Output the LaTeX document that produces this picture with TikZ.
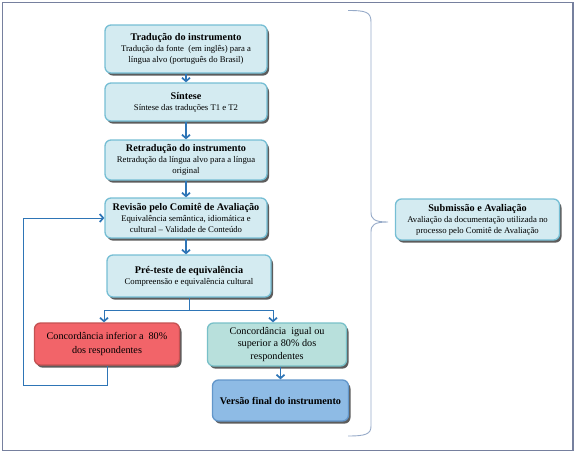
\documentclass[tikz,border=0pt]{standalone}
\usepackage{fontspec}
\setmainfont{Liberation Serif}
\usetikzlibrary{arrows.meta,shadows}
\definecolor{boxfill}{RGB}{212,235,241}
\definecolor{boxdraw}{RGB}{118,190,212}
\definecolor{redfill}{RGB}{242,100,105}
\definecolor{reddraw}{RGB}{196,82,82}
\definecolor{grnfill}{RGB}{184,224,220}
\definecolor{grndraw}{RGB}{120,192,200}
\definecolor{finfill}{RGB}{142,187,229}
\definecolor{findraw}{RGB}{98,150,202}
\definecolor{arrowblue}{RGB}{46,117,182}
\definecolor{framecol}{RGB}{118,128,158}
\definecolor{bracecol}{RGB}{150,170,200}
\tikzset{
  stagebox/.style={draw=boxdraw, fill=boxfill, line width=1.3pt, rounded corners=6pt,
    align=center, inner sep=1pt, font=\fontsize{8.7}{11}\selectfont,
    drop shadow={shadow xshift=2pt, shadow yshift=-2.6pt, fill=black!75, opacity=0.85}},
  redbox/.style={stagebox, draw=reddraw, fill=redfill},
  grnbox/.style={stagebox, draw=grndraw, fill=grnfill},
  finbox/.style={stagebox, draw=findraw, fill=finfill},
  flow/.style={draw=arrowblue, line width=1.7pt, -{Straight Barb[length=3.5pt,width=8pt,line width=1.7pt]}},
  link/.style={draw=arrowblue, line width=1pt},
  linkarrow/.style={link, -{Straight Barb[length=3.5pt,width=8pt,line width=1.7pt]}}
}
\newcommand{\bt}[1]{{\bfseries\fontsize{10.2}{11.5}\selectfont #1}}
\begin{document}
\begin{tikzpicture}[x=1pt,y=-1pt]
\useasboundingbox (0,0) rectangle (578,455);
\draw[framecol, line width=1.5pt] (2.5,2.5) rectangle (573,450.5);

\node[stagebox, minimum width=162pt, minimum height=48pt] (t1) at (186,49)
  {\bt{Tradução do instrumento}\\Tradução da fonte\ \ (em inglês) para a\\língua alvo (português do Brasil)};
\node[stagebox, minimum width=162pt, minimum height=38pt] (t2) at (186,102)
  {\bt{Síntese}\\Síntese das traduções T1 e T2};
\node[stagebox, minimum width=162pt, minimum height=40pt] (t3) at (186,160)
  {\bt{Retradução do instrumento}\\Retradução da língua alvo para a língua\\original};
\node[stagebox, minimum width=162pt, minimum height=40pt] (t4) at (186,218)
  {\bt{Revisão pelo Comitê de Avaliação}\\Equivalência semântica, idiomática e\\cultural – Validade de Conteúdo};
\node[stagebox, minimum width=164pt, minimum height=42pt] (t5) at (189,276)
  {\bt{Pré-teste de equivalência}\\Compreensão e equivalência cultural};
\node[redbox, minimum width=145pt, minimum height=42pt, font=\fontsize{10.2}{13.5}\selectfont] (r) at (107,344)
  {Concordância inferior a\ \ 80\%\\dos respondentes};
\node[grnbox, minimum width=139pt, minimum height=43pt, font=\fontsize{10.2}{12.8}\selectfont] (g) at (277,344.5)
  {Concordância\ \ igual ou\\superior a 80\% dos\\respondentes};
\node[finbox, minimum width=136pt, minimum height=41pt] (f) at (280.5,400.5)
  {\bt{Versão final do instrumento}};
\node[stagebox, minimum width=164pt, minimum height=41pt] (s) at (477.5,219.5)
  {\bt{Submissão e Avaliação}\\Avaliação da documentação utilizada no\\processo pelo Comitê de Avaliação};

\draw[flow] (t1.south) -- (t2.north);
\draw[flow] (t2.south) -- (t3.north);
\draw[flow] (t3.south) -- (t4.north);
\draw[flow] (t4.south) -- (t4.south |- t5.north);
\draw[flow] (g.south -| f.north) -- (f.north);

\coordinate (sp) at (189,310);
\coordinate (sl) at (104,310);
\coordinate (sr) at (273,310);
\draw[link] (t5.south) -- (sp);
\draw[link] (sl) -- (sr);
\draw[linkarrow] (sl) -- (sl |- r.north);
\draw[linkarrow] (sr) -- (sr |- g.north);

\coordinate (lb) at (107,385);
\coordinate (ll) at (23,385);
\draw[linkarrow] (r.south -| lb) -- (lb) -- (ll) -- (ll |- t4.west) -- (t4.west);

\coordinate (bt) at (348,10.5);
\coordinate (bb) at (348,436);
\coordinate (tip) at (388,222);
\draw[bracecol, line width=0.9pt]
  (bt) .. controls (366,10.5) and (371,12) .. (371,22)
  -- (371,212) .. controls (371,219) and (374,222) .. (tip)
  (tip) .. controls (374,222) and (371,225) .. (371,232)
  -- (371,426) .. controls (371,434) and (366,436) .. (bb);
\end{tikzpicture}
\end{document}
